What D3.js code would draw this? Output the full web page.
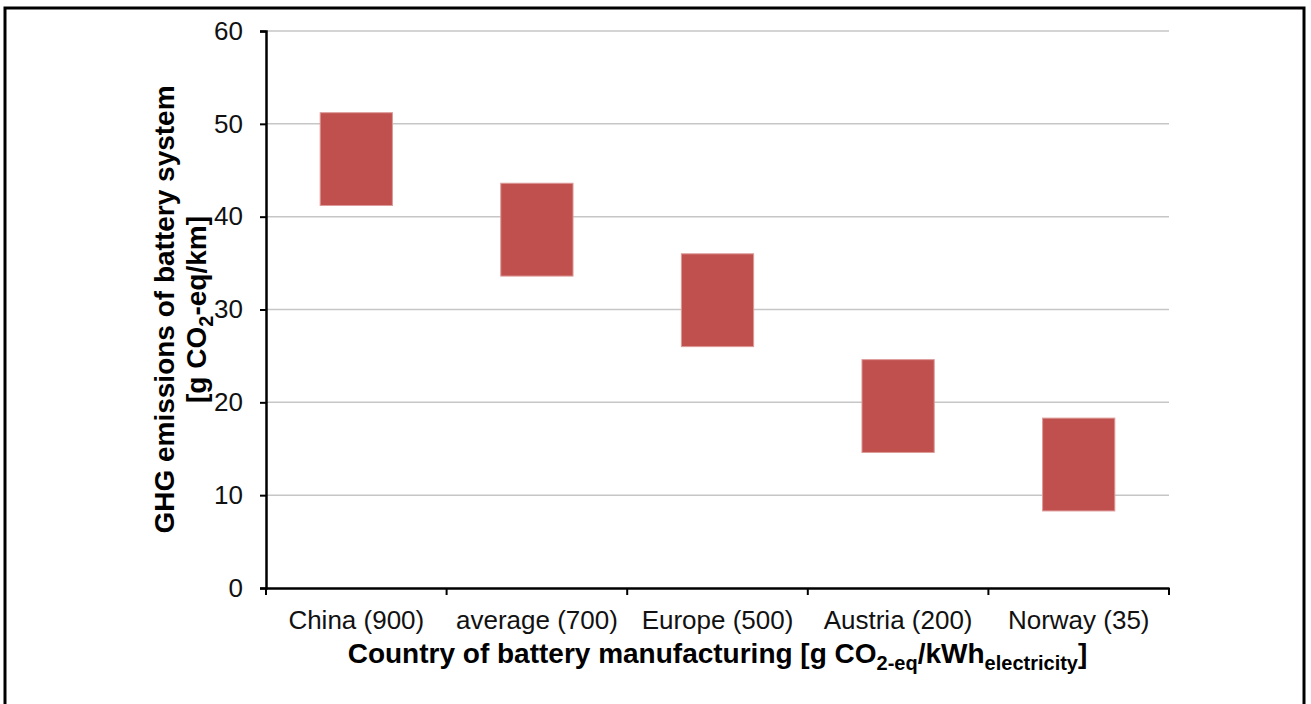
<!DOCTYPE html>
<html>
<head>
<meta charset="utf-8">
<script src="https://cdn.jsdelivr.net/npm/d3@7"></script>
<style>
  html, body { margin: 0; padding: 0; background: #fff; }
  svg { display: block; font-family: "Liberation Sans", Arial, sans-serif; }
</style>
</head>
<body>
<svg id="chart" width="1311" height="704"></svg>
<script>
// Data
const categories = ["China (900)", "average (700)", "Europe (500)", "Austria (200)", "Norway (35)"];
const lowValues  = [41.2, 33.6, 26.0, 14.6, 8.3];
const highValues = [51.2, 43.6, 36.0, 24.6, 18.3];
const yTicks = [0, 10, 20, 30, 40, 50, 60];

const svg = d3.select("#chart");
const W = 1311, H = 704;
const margin = { left: 266, right: W - 1169, top: 31, bottom: H - 588 };
const FONT = "Liberation Sans, Arial, sans-serif";

// Outer frame
svg.append("rect")
  .attr("x", 5).attr("y", 8)
  .attr("width", 1299).attr("height", 760)
  .attr("fill", "none").attr("stroke", "#000").attr("stroke-width", 3);

const xb = d3.scaleBand().domain(categories).range([margin.left, W - margin.right]);
const y = d3.scaleLinear().domain([0, 60]).range([H - margin.bottom, margin.top]);

// gridlines
svg.append("g").selectAll("line").data(yTicks.filter(d => d > 0)).join("line")
  .attr("x1", margin.left).attr("x2", W - margin.right)
  .attr("y1", d => y(d)).attr("y2", d => y(d))
  .attr("stroke", "#c6c6c6").attr("stroke-width", 1.5);

// bars (floating ranges)
svg.append("g").selectAll("rect").data(categories).join("rect")
  .attr("x", d => xb(d) + xb.bandwidth() * 0.3)
  .attr("width", xb.bandwidth() * 0.4)
  .attr("y", (d, i) => y(highValues[i]))
  .attr("height", (d, i) => y(lowValues[i]) - y(highValues[i]))
  .attr("fill", "#C0504D")
  .attr("stroke", "#dc9a98").attr("stroke-width", 1);

// y axis
const yAxis = d3.axisLeft(y).tickValues(yTicks).tickSize(6).tickPadding(17);
const gy = svg.append("g").attr("transform", `translate(${margin.left},0)`).call(yAxis);
gy.select(".domain").attr("stroke", "#000").attr("stroke-width", 2.5);
gy.selectAll(".tick line").attr("stroke", "#000").attr("stroke-width", 2);
gy.selectAll(".tick text").attr("font-size", 26).attr("fill", "#111").attr("font-family", FONT);

// x axis with boundary ticks
const xAxis = d3.axisBottom(xb).tickSize(0).tickPadding(22.5);
const gx = svg.append("g").attr("transform", `translate(0,${H - margin.bottom})`).call(xAxis);
gx.select(".domain").attr("stroke", "#000").attr("stroke-width", 2.5);
gx.selectAll(".tick text").attr("font-size", 26).attr("fill", "#111").attr("font-family", FONT);
const boundaries = categories.map(c => xb(c)).concat([xb(categories[categories.length - 1]) + xb.bandwidth()]);
svg.append("g").selectAll("line").data(boundaries).join("line")
  .attr("x1", d => d).attr("x2", d => d)
  .attr("y1", H - margin.bottom).attr("y2", H - margin.bottom + 7)
  .attr("stroke", "#000").attr("stroke-width", 2);

// x title
const xt = svg.append("text")
  .attr("x", (margin.left + W - margin.right) / 2).attr("y", 663)
  .attr("text-anchor", "middle").attr("font-weight", "bold").attr("font-size", 28).attr("fill", "#000");
xt.append("tspan").text("Country of battery manufacturing [g CO");
xt.append("tspan").attr("font-size", 20).attr("dy", 7).text("2-eq");
xt.append("tspan").attr("dy", -7).text("/kWh");
xt.append("tspan").attr("font-size", 20).attr("dy", 7).text("electricity");
xt.append("tspan").attr("dy", -7).text("]");

// y title
const cy = (margin.top + H - margin.bottom) / 2;
const yt = svg.append("g").attr("transform", `translate(174,${cy}) rotate(-90)`);
yt.append("text").attr("x", 0).attr("y", 0)
  .attr("text-anchor", "middle").attr("font-weight", "bold").attr("font-size", 28)
  .text("GHG emissions of battery system");
const yt2 = yt.append("text").attr("x", 0).attr("y", 32)
  .attr("text-anchor", "middle").attr("font-weight", "bold").attr("font-size", 28);
yt2.append("tspan").text("[g CO");
yt2.append("tspan").attr("font-size", 20).attr("dy", 7).text("2");
yt2.append("tspan").attr("dy", -7).text("-eq/km]");
</script>
</body>
</html>
